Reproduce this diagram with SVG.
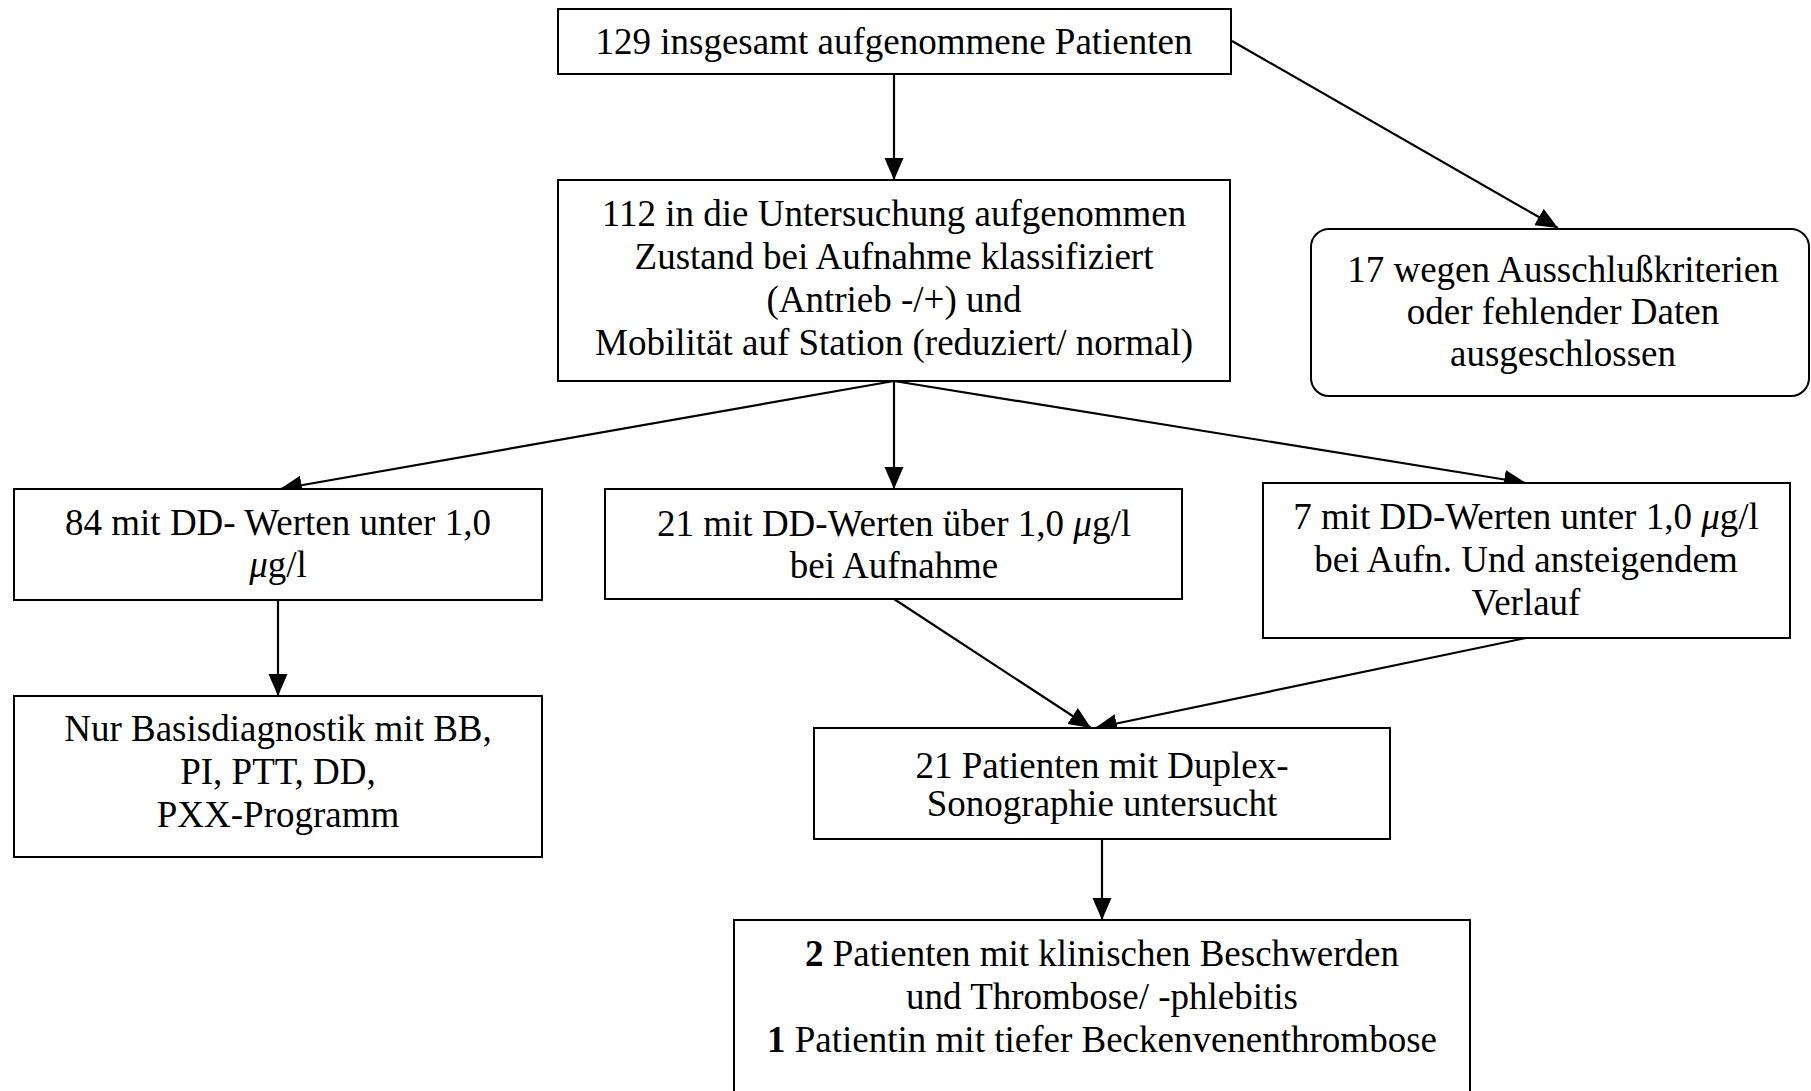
<svg xmlns="http://www.w3.org/2000/svg" width="1811" height="1091" viewBox="0 0 1811 1091">
<defs>
<style>
.box{fill:#fff;stroke:#000;stroke-width:2}
.t{font-family:"Liberation Serif","Times New Roman",serif;font-size:37px;fill:#000;text-anchor:middle}
.c{stroke:#000;stroke-width:2.2;fill:none;marker-end:url(#ah)}
.i{font-style:italic}
.b{font-weight:bold}
</style>
<marker id="ah" markerUnits="userSpaceOnUse" markerWidth="24" markerHeight="22" viewBox="0 0 24 22" refX="22" refY="11" orient="auto">
<path d="M0,1.5 L22,11 L0,20.5 Z" fill="#000"/>
</marker>
</defs>
<rect width="1811" height="1091" fill="#fff"/>
<g id="connectors">
<line class="c" x1="894" y1="74" x2="894" y2="180"/>
<line class="c" x1="1232" y1="41" x2="1558" y2="228"/>
<line class="c" x1="894" y1="381" x2="280" y2="489"/>
<line class="c" x1="894" y1="381" x2="894" y2="489"/>
<line class="c" x1="894" y1="381" x2="1526" y2="483"/>
<line class="c" x1="278" y1="600" x2="278" y2="696"/>
<line class="c" x1="894" y1="599" x2="1091" y2="728"/>
<line class="c" x1="1526" y1="638" x2="1095" y2="728"/>
<line class="c" x1="1102" y1="840" x2="1102" y2="920"/>
</g>
<g id="n-total">
<rect class="box" x="558" y="9" width="673" height="65"/>
<text class="t" x="894" y="54">129 insgesamt aufgenommene Patienten</text>
</g>
<g id="n-included">
<rect class="box" x="558" y="180" width="672" height="201"/>
<text class="t" x="894" y="226">112 in die Untersuchung aufgenommen</text>
<text class="t" x="894" y="269">Zustand bei Aufnahme klassifiziert</text>
<text class="t" x="894" y="312">(Antrieb -/+) und</text>
<text class="t" x="894" y="355">Mobilität auf Station (reduziert/ normal)</text>
</g>
<g id="n-excluded">
<rect class="box" x="1311" y="229" width="498" height="167" rx="18" ry="18"/>
<text class="t" x="1563" y="282">17 wegen Ausschlußkriterien</text>
<text class="t" x="1563" y="324">oder fehlender Daten</text>
<text class="t" x="1563" y="366">ausgeschlossen</text>
</g>
<g id="n-dd-low">
<rect class="box" x="14" y="489" width="528" height="111"/>
<text class="t" x="278" y="535">84 mit DD- Werten unter 1,0</text>
<text class="t" x="278" y="577"><tspan class="i">μ</tspan>g/l</text>
</g>
<g id="n-dd-high">
<rect class="box" x="605" y="489" width="577" height="110"/>
<text class="t" x="894" y="536">21 mit DD-Werten über 1,0 <tspan class="i">μ</tspan>g/l</text>
<text class="t" x="894" y="578">bei Aufnahme</text>
</g>
<g id="n-dd-rising">
<rect class="box" x="1263" y="483" width="527" height="155"/>
<text class="t" x="1526" y="529">7 mit DD-Werten unter 1,0 <tspan class="i">μ</tspan>g/l</text>
<text class="t" x="1526" y="572">bei Aufn. Und ansteigendem</text>
<text class="t" x="1526" y="615">Verlauf</text>
</g>
<g id="n-basis">
<rect class="box" x="14" y="696" width="528" height="161"/>
<text class="t" x="278" y="741">Nur Basisdiagnostik mit BB,</text>
<text class="t" x="278" y="784">PI, PTT, DD,</text>
<text class="t" x="278" y="827">PXX-Programm</text>
</g>
<g id="n-duplex">
<rect class="box" x="814" y="728" width="576" height="111"/>
<text class="t" x="1102" y="778">21 Patienten mit Duplex-</text>
<text class="t" x="1102" y="816">Sonographie untersucht</text>
</g>
<g id="n-result">
<rect class="box" x="734" y="920" width="736" height="200"/>
<text class="t" x="1102" y="966"><tspan class="b">2</tspan> Patienten mit klinischen Beschwerden</text>
<text class="t" x="1102" y="1009">und Thrombose/ -phlebitis</text>
<text class="t" x="1102" y="1052"><tspan class="b">1</tspan> Patientin mit tiefer Beckenvenenthrombose</text>
</g>
</svg>
